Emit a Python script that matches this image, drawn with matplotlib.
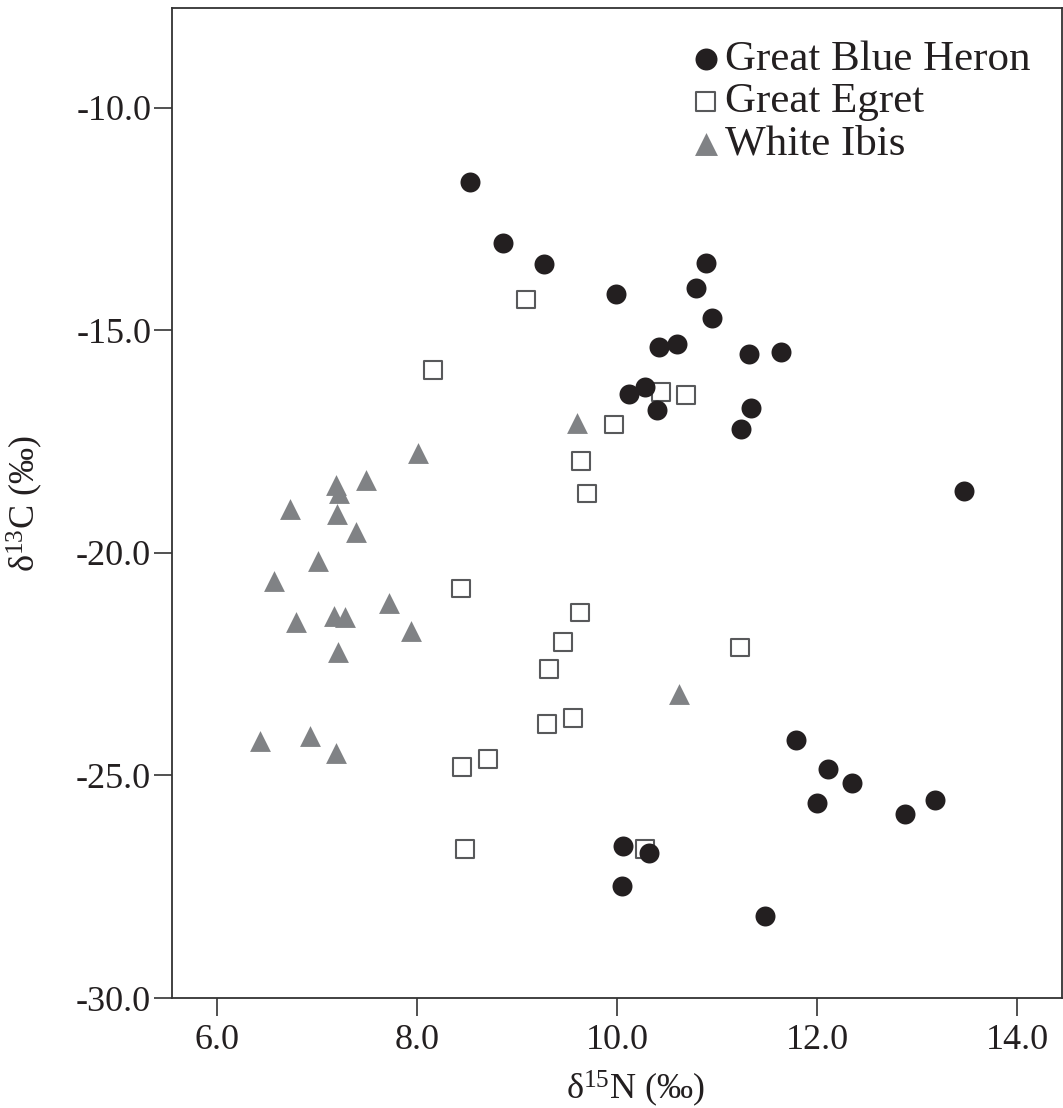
import matplotlib
matplotlib.use("Agg")
import matplotlib.pyplot as plt

plt.rcParams['font.family'] = ['Liberation Serif', 'DejaVu Serif']
plt.rcParams['mathtext.fontset'] = 'custom'
plt.rcParams['mathtext.rm'] = 'Liberation Serif'
plt.rcParams['mathtext.it'] = 'Liberation Serif:italic'

# Great Blue Heron
gbh_n = [8.53, 8.86, 9.27, 9.99, 10.89, 10.79, 10.95, 10.42, 10.60, 11.32, 11.64,
         10.12, 10.28, 10.40, 11.34, 11.24, 13.47, 11.79, 12.11, 12.35, 12.00,
         13.18, 12.88, 10.06, 10.32, 10.05, 11.48]
gbh_c = [-11.66, -13.03, -13.51, -14.18, -13.48, -14.04, -14.72, -15.37, -15.30, -15.53, -15.48,
         -16.43, -16.27, -16.79, -16.74, -17.21, -18.61, -24.20, -24.85, -25.17, -25.62,
         -25.55, -25.87, -26.58, -26.74, -27.48, -28.16]
# Great Egret
ge_n = [9.09, 8.16, 10.44, 10.69, 9.97, 9.64, 9.70, 8.44, 9.63, 9.46, 9.32, 11.23,
        9.56, 9.30, 8.71, 8.45, 8.48, 10.28]
ge_c = [-14.31, -15.89, -16.38, -16.45, -17.12, -17.93, -18.67, -20.79, -21.33, -22.00, -22.61, -22.13,
        -23.71, -23.84, -24.63, -24.81, -26.65, -26.65]
# White Ibis
wi_n = [9.60, 8.01, 7.19, 7.22, 7.49, 6.73, 7.20, 7.39, 7.01, 6.57, 7.72, 7.17, 7.28,
        6.79, 7.94, 7.21, 10.62, 6.43, 6.93, 7.19]
wi_c = [-17.08, -17.75, -18.47, -18.65, -18.36, -19.01, -19.12, -19.53, -20.18, -20.63, -21.12, -21.42, -21.44,
        -21.55, -21.75, -22.22, -23.17, -24.22, -24.11, -24.49]

species = ['Great Blue Heron', 'Great Egret', 'White Ibis']
xticks = [6.0, 8.0, 10.0, 12.0, 14.0]
yticks = [-10.0, -15.0, -20.0, -25.0, -30.0]

TXT = '#231f20'
fig = plt.figure(figsize=(10.63, 11.08), dpi=100)
ax = fig.add_axes([172/1063, 1 - 998/1108, 890/1063, 990/1108])

ax.scatter(ge_n, ge_c, s=155, marker='s', facecolor='none', edgecolor='#58595b',
           linewidths=1.5, label=species[1], zorder=3)
ax.scatter(gbh_n, gbh_c, s=207, marker='o', color='#231f20', linewidths=0,
           label=species[0], zorder=4)
ax.scatter(wi_n, wi_c, s=225, marker='^', color='#808285', linewidths=0,
           label=species[2], zorder=5)

ax.set_xlim(5.55, 14.45)
ax.set_ylim(-30.0, -7.753)
ax.set_xticks(xticks)
ax.set_xticklabels([f'{v:.1f}' for v in xticks])
ax.set_yticks(yticks)
ax.set_yticklabels([f'{v:.1f}' for v in yticks])

for sp in ax.spines.values():
    sp.set_linewidth(1.3)
    sp.set_color('#333333')
ax.tick_params(axis='both', direction='out', length=13, width=1.2, color='#333333',
               labelsize=26, labelcolor=TXT)
ax.tick_params(axis='x', pad=6)
ax.tick_params(axis='y', pad=2)

ax.set_xlabel('δ$^{15}$N (‰)', fontsize=26, color=TXT)
ax.set_ylabel('δ$^{13}$C (‰)', fontsize=26, color=TXT)
ax.xaxis.set_label_coords(0.521, -0.071)
ax.yaxis.set_label_coords(-0.1427, 0.5)

handles, labels = ax.get_legend_handles_labels()
order = [labels.index(s) for s in species]
leg = ax.legend([handles[i] for i in order], [labels[i] for i in order],
                loc='upper right', bbox_to_anchor=(0.965, 0.968), frameon=False,
                fontsize=31, borderaxespad=0, borderpad=0, labelspacing=0.08,
                handlelength=0.5, handletextpad=0.2, scatterpoints=1, markerscale=1.1)
for t in leg.get_texts():
    t.set_color(TXT)

fig.savefig('out.png', dpi=100)
